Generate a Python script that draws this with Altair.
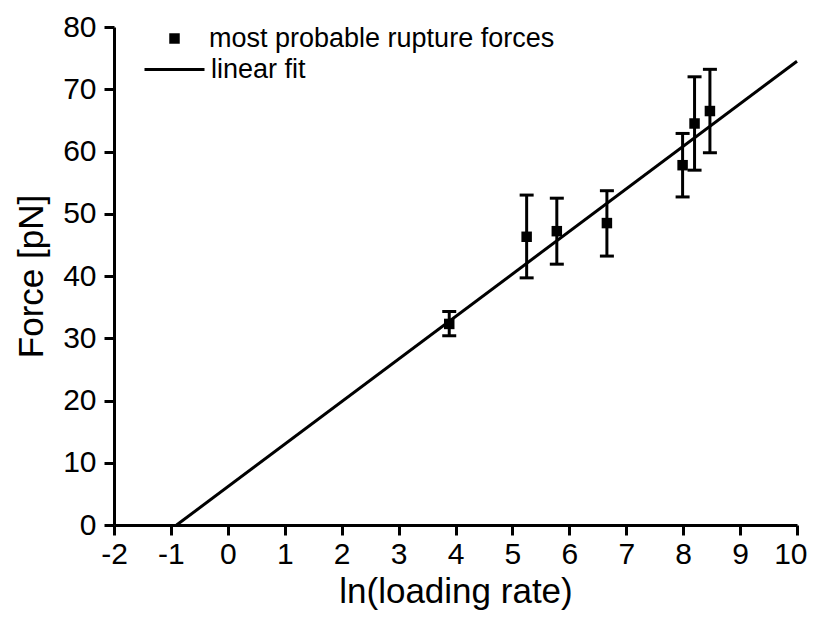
import altair as alt
import pandas as pd

# data
ln_rate = [3.89, 5.25, 5.78, 6.66, 7.99, 8.20, 8.47]
force = [32.3, 46.3, 47.2, 48.5, 57.8, 64.5, 66.5]
force_low = [30.4, 39.7, 41.9, 43.2, 52.7, 57.0, 59.8]
force_high = [34.3, 53.0, 52.5, 53.7, 62.9, 72.0, 73.2]
fit_x = [-0.9, 10.0]
fit_y = [0.0, 74.5]
series_names = ["most probable rupture forces", "linear fit"]
x_ticks = [v / 2 for v in range(-4, 21)]
y_ticks = list(range(0, 81, 5))

FONT = "Liberation Sans"

pts = pd.DataFrame({"x": ln_rate, "y": force, "lo": force_low, "hi": force_high,
                    "series": series_names[0]})
fit = pd.DataFrame({"x": fit_x, "y": fit_y, "series": series_names[1]})

xscale = alt.Scale(domain=[-2, 10], nice=False, zero=False)
yscale = alt.Scale(domain=[0, 80], nice=False)

xaxis = alt.Axis(
    values=x_ticks, title="ln(loading rate)",
    labelExpr="datum.value % 1 ? '' : '' + datum.value",
    tickSize={"condition": {"test": "datum.value % 1 !== 0", "value": 5}, "value": 10},
    labelAlign={"condition": {"test": "datum.value >= 10", "value": "right"},
                "value": "center"},
    labelOffset={"condition": {"test": "datum.value >= 10", "value": 10}, "value": 0},
    labelFlush=False, labelOverlap=False, labelPadding=4,
    titlePadding=5,
)
yaxis = alt.Axis(
    values=y_ticks, title="Force [pN]",
    labelExpr="datum.value % 10 ? '' : '' + datum.value",
    tickSize={"condition": {"test": "datum.value % 10 !== 0", "value": 5}, "value": 10},
    labelOverlap=False, labelPadding=8, titlePadding=13,
)

x = alt.X("x:Q", scale=xscale, axis=xaxis)
y = alt.Y("y:Q", scale=yscale, axis=yaxis)

legend_common = dict(title=None, orient="none", labelFont=FONT, labelFontSize=27,
                     labelColor="black", labelLimit=0, symbolOpacity=1)

line = alt.Chart(fit).mark_line(strokeWidth=3).encode(
    x=x, y=y,
    color=alt.Color("series:N",
                    scale=alt.Scale(domain=[series_names[1]], range=["black"]),
                    legend=alt.Legend(legendX=29, legendY=11, symbolType="stroke",
                                      symbolSize=3600, symbolStrokeWidth=3,
                                      symbolStrokeColor="black", labelOffset=5,
                                      **legend_common)),
)

base = alt.Chart(pts)
bars = base.mark_rule(color="black", strokeWidth=3).encode(
    x=alt.X("x:Q", scale=xscale), y=alt.Y("lo:Q", scale=yscale), y2="hi:Q")
cap_lo = base.mark_tick(color="black", thickness=3, size=14, orient="horizontal",
                        opacity=1).encode(
    x=alt.X("x:Q", scale=xscale), y=alt.Y("lo:Q", scale=yscale))
cap_hi = base.mark_tick(color="black", thickness=3, size=14, orient="horizontal",
                        opacity=1).encode(
    x=alt.X("x:Q", scale=xscale), y=alt.Y("hi:Q", scale=yscale))

points = base.mark_point(filled=True, color="black", opacity=1, size=110).encode(
    x=alt.X("x:Q", scale=xscale),
    y=alt.Y("y:Q", scale=yscale),
    shape=alt.Shape("series:N",
                    scale=alt.Scale(domain=[series_names[0]], range=["square"]),
                    legend=alt.Legend(legendX=47, legendY=-2, symbolSize=110,
                                      symbolFillColor="black", labelOffset=21,
                                      **legend_common)),
)

chart = alt.layer(line, bars, cap_lo, cap_hi, points).properties(
    width=683, height=498,
    autosize=alt.AutoSizeParams(type="none"),
    padding={"left": 106, "top": 19, "right": 10, "bottom": 88},
).configure_view(stroke=None).configure_axis(
    grid=False, domainColor="black", domainWidth=3, tickColor="black", tickWidth=3,
    labelFont=FONT, labelFontSize=30, labelColor="black",
    titleFont=FONT, titleFontSize=35, titleFontWeight="normal", titleColor="black",
)

chart.save("out.html", embed_options={"renderer": "svg", "actions": False})
